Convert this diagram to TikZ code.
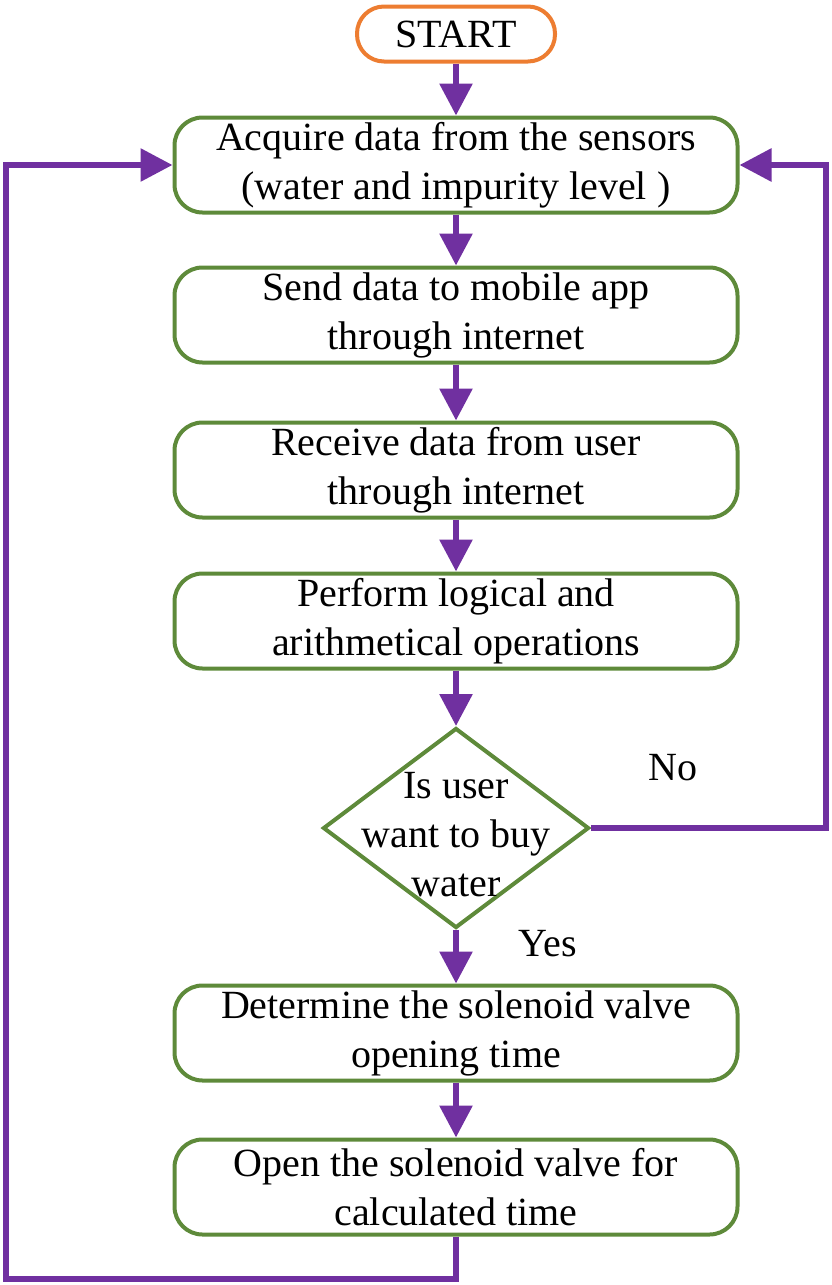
\documentclass[tikz,border=0pt]{standalone}
\usepackage{fontspec}
\setmainfont{Liberation Serif}
\usetikzlibrary{arrows.meta,shapes.geometric}
\definecolor{pgreen}{HTML}{5E8A3A}
\definecolor{porange}{HTML}{ED7D31}
\definecolor{ppurple}{HTML}{7030A0}
\begin{document}
\begin{tikzpicture}[x=1pt,y=-1pt,
  every node/.style={font=\fontsize{40}{49}\selectfont, inner sep=0pt},
  procbox/.style={draw=pgreen, line width=4pt, rounded corners=28pt, minimum width=563pt, minimum height=95pt, align=center, fill=white},
  startbox/.style={draw=porange, line width=4pt, rounded corners=27pt, minimum width=198pt, minimum height=55pt, fill=white},
  decision/.style={draw=pgreen, line width=4pt, diamond, minimum width=266pt, minimum height=200pt, fill=white},
  arr/.style={draw=ppurple, line width=6pt, -{Triangle[length=32pt,width=32pt]}},
  lbl/.style={align=center}
]
\useasboundingbox (0,0) rectangle (831,1285);
\node[startbox] (start) at (456,34) {START};
\node[procbox] (b1) at (456,165) {Acquire data from the sensors\\(water and impurity level )};
\node[procbox] (b2) at (456,315) {Send data to mobile app\\through internet};
\node[procbox] (b3) at (456,470) {Receive data from user\\through internet};
\node[procbox] (b4) at (456,621) {Perform logical and\\arithmetical operations};
\node[decision] (d) at (456,828) {};
\node[lbl] (dt) at (456,835) {Is user\\want to buy\\water};
\node[procbox] (b5) at (456,1033) {Determine the solenoid valve\\opening time};
\node[procbox] (b6) at (456,1187) {Open the solenoid valve for\\calculated time};
\node (no) at (673,768) {No};
\node (yes) at (548,944) {Yes};
\coordinate (ll) at (6,1279);
\coordinate (rr) at (826,828);
\draw[arr] (start) -- (b1);
\draw[arr] (b1) -- (b2);
\draw[arr] (b2) -- (b3);
\draw[arr] (b3) -- (b4);
\draw[arr] (b4) -- (d.north);
\draw[arr] (d.south) -- (b5);
\draw[arr] (b5) -- (b6);
\draw[arr] (b6.south) |- (ll) |- (b1.west);
\draw[arr] (d.east) -- (rr) |- (b1.east);
\end{tikzpicture}
\end{document}
